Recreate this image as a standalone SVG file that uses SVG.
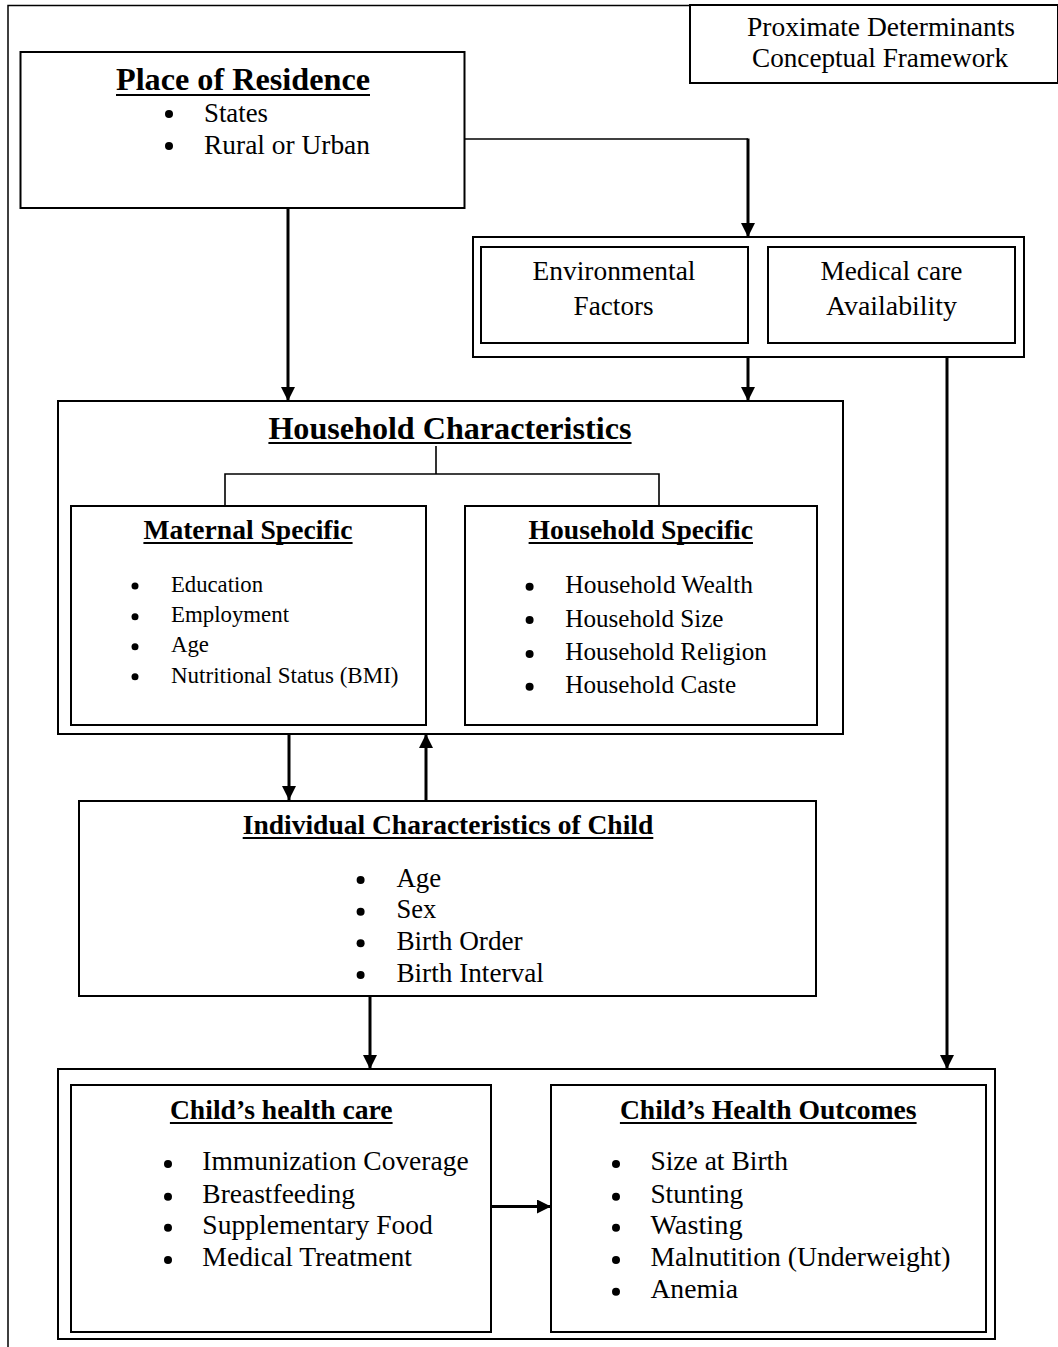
<svg xmlns="http://www.w3.org/2000/svg" width="1058" height="1347" viewBox="0 0 1058 1347">
<style>
.box{fill:#fff;stroke:#000;stroke-width:2}
.frame{fill:none;stroke:#000;stroke-width:1.5}
.t{font-family:"Liberation Serif","Times New Roman",serif;fill:#000}
.b{font-weight:bold}
.ul{stroke:#000;stroke-width:2}
.dot{fill:#000}
.c{fill:none;stroke:#000;stroke-width:3}
.thin{fill:none;stroke:#000;stroke-width:1.6}
</style>
<defs>
<marker id="ah" markerUnits="userSpaceOnUse" markerWidth="14" markerHeight="14" refX="14" refY="7" orient="auto">
<path d="M0,0 L14,7 L0,14 Z" fill="#000"/>
</marker>
</defs>
<rect width="1058" height="1347" fill="#fff"/>
<path class="frame" d="M8,1347 V5.5 H690"/>

<g id="title">
<rect class="box" x="690" y="5" width="368" height="78"/>
<text class="t" x="747" y="36" font-size="27" textLength="268" lengthAdjust="spacingAndGlyphs">Proximate Determinants</text>
<text class="t" x="752" y="67" font-size="27" textLength="256" lengthAdjust="spacingAndGlyphs">Conceptual Framework</text>
</g>

<g id="place">
<rect class="box" x="20.5" y="52" width="444" height="156"/>
<text class="t b" x="116" y="89.5" font-size="32" textLength="254" lengthAdjust="spacingAndGlyphs">Place of Residence</text>
<line class="ul" x1="116" y1="95" x2="370" y2="95"/>
<circle class="dot" cx="169" cy="114" r="4"/>
<text class="t" x="204" y="121.5" font-size="27" textLength="64" lengthAdjust="spacingAndGlyphs">States</text>
<circle class="dot" cx="169" cy="146" r="4"/>
<text class="t" x="204" y="154" font-size="27" textLength="166" lengthAdjust="spacingAndGlyphs">Rural or Urban</text>
</g>

<g id="env-group">
<rect class="box" x="473" y="237" width="551" height="120"/>
</g>
<g id="environmental">
<rect class="box" x="481" y="247" width="267" height="96"/>
<text class="t" x="532.5" y="280" font-size="27" textLength="163" lengthAdjust="spacingAndGlyphs">Environmental</text>
<text class="t" x="573.6" y="315" font-size="27" textLength="80" lengthAdjust="spacingAndGlyphs">Factors</text>
</g>
<g id="medical">
<rect class="box" x="768" y="247" width="247" height="96"/>
<text class="t" x="820.4" y="280" font-size="27" textLength="142" lengthAdjust="spacingAndGlyphs">Medical care</text>
<text class="t" x="826" y="315" font-size="27" textLength="131" lengthAdjust="spacingAndGlyphs">Availability</text>
</g>

<g id="household">
<rect class="box" x="58" y="401" width="785" height="333"/>
<text class="t b" x="268.4" y="438.5" font-size="32" textLength="363" lengthAdjust="spacingAndGlyphs">Household Characteristics</text>
<line class="ul" x1="268.4" y1="443" x2="631.6" y2="443"/>
</g>
<g id="maternal">
<rect class="box" x="71" y="506" width="355" height="219"/>
<text class="t b" x="143.4" y="538.5" font-size="27.5" textLength="209" lengthAdjust="spacingAndGlyphs">Maternal Specific</text>
<line class="ul" x1="143.4" y1="543" x2="352.6" y2="543"/>
<circle class="dot" cx="135" cy="586" r="3.5"/>
<text class="t" x="171" y="591.7" font-size="23" textLength="92" lengthAdjust="spacingAndGlyphs">Education</text>
<circle class="dot" cx="135" cy="616.7" r="3.5"/>
<text class="t" x="171" y="622.3" font-size="23" textLength="118" lengthAdjust="spacingAndGlyphs">Employment</text>
<circle class="dot" cx="135" cy="646.7" r="3.5"/>
<text class="t" x="171" y="652.3" font-size="23" textLength="38" lengthAdjust="spacingAndGlyphs">Age</text>
<circle class="dot" cx="135" cy="676.7" r="3.5"/>
<text class="t" x="171" y="682.7" font-size="23" textLength="227.5" lengthAdjust="spacingAndGlyphs">Nutritional Status (BMI)</text>
</g>
<g id="hh-specific">
<rect class="box" x="465" y="506" width="352" height="219"/>
<text class="t b" x="528.6" y="538.5" font-size="27.5" textLength="224.4" lengthAdjust="spacingAndGlyphs">Household Specific</text>
<line class="ul" x1="528.6" y1="543" x2="753" y2="543"/>
<circle class="dot" cx="529.6" cy="586.7" r="4"/>
<text class="t" x="565.3" y="593.3" font-size="25" textLength="187.7" lengthAdjust="spacingAndGlyphs">Household Wealth</text>
<circle class="dot" cx="529.6" cy="620" r="4"/>
<text class="t" x="565.3" y="626.7" font-size="25" textLength="158.2" lengthAdjust="spacingAndGlyphs">Household Size</text>
<circle class="dot" cx="529.6" cy="654" r="4"/>
<text class="t" x="565.3" y="660" font-size="25" textLength="201.5" lengthAdjust="spacingAndGlyphs">Household Religion</text>
<circle class="dot" cx="529.6" cy="686.7" r="4"/>
<text class="t" x="565.3" y="693.3" font-size="25" textLength="170.9" lengthAdjust="spacingAndGlyphs">Household Caste</text>
</g>

<g id="individual">
<rect class="box" x="79" y="801" width="737" height="195"/>
<text class="t b" x="242.7" y="833.5" font-size="27.5" textLength="410.6" lengthAdjust="spacingAndGlyphs">Individual Characteristics of Child</text>
<line class="ul" x1="242.7" y1="838" x2="653.3" y2="838"/>
<circle class="dot" cx="360.6" cy="880" r="4"/>
<text class="t" x="396.4" y="886.5" font-size="27" textLength="44.7" lengthAdjust="spacingAndGlyphs">Age</text>
<circle class="dot" cx="360.6" cy="911.7" r="4"/>
<text class="t" x="396.4" y="918.3" font-size="27" textLength="39.8" lengthAdjust="spacingAndGlyphs">Sex</text>
<circle class="dot" cx="360.6" cy="943.3" r="4"/>
<text class="t" x="396.4" y="950" font-size="27" textLength="126.3" lengthAdjust="spacingAndGlyphs">Birth Order</text>
<circle class="dot" cx="360.6" cy="975" r="4"/>
<text class="t" x="396.4" y="981.7" font-size="27" textLength="147.4" lengthAdjust="spacingAndGlyphs">Birth Interval</text>
</g>

<g id="bottom-group">
<rect class="box" x="58" y="1069" width="937" height="270"/>
</g>
<g id="health-care">
<rect class="box" x="71" y="1085" width="420" height="247"/>
<text class="t b" x="169.9" y="1119" font-size="27.5" textLength="222.7" lengthAdjust="spacingAndGlyphs">Child’s health care</text>
<line class="ul" x1="169.9" y1="1123" x2="392.6" y2="1123"/>
<circle class="dot" cx="168" cy="1164" r="4"/>
<text class="t" x="202.3" y="1170" font-size="27" textLength="266.3" lengthAdjust="spacingAndGlyphs">Immunization Coverage</text>
<circle class="dot" cx="168" cy="1196.7" r="4"/>
<text class="t" x="202.3" y="1202.7" font-size="27" textLength="152.6" lengthAdjust="spacingAndGlyphs">Breastfeeding</text>
<circle class="dot" cx="168" cy="1227.7" r="4"/>
<text class="t" x="202.3" y="1234" font-size="27" textLength="230.6" lengthAdjust="spacingAndGlyphs">Supplementary Food</text>
<circle class="dot" cx="168" cy="1260" r="4"/>
<text class="t" x="202.3" y="1266" font-size="27" textLength="209.7" lengthAdjust="spacingAndGlyphs">Medical Treatment</text>
</g>
<g id="outcomes">
<rect class="box" x="551" y="1085" width="435" height="247"/>
<text class="t b" x="619.9" y="1119" font-size="27.5" textLength="296.7" lengthAdjust="spacingAndGlyphs">Child’s Health Outcomes</text>
<line class="ul" x1="619.9" y1="1123" x2="916.6" y2="1123"/>
<circle class="dot" cx="616" cy="1164" r="4"/>
<text class="t" x="650.4" y="1170" font-size="27" textLength="137.6" lengthAdjust="spacingAndGlyphs">Size at Birth</text>
<circle class="dot" cx="616" cy="1196.7" r="4"/>
<text class="t" x="650.4" y="1202.7" font-size="27" textLength="92.8" lengthAdjust="spacingAndGlyphs">Stunting</text>
<circle class="dot" cx="616" cy="1227.7" r="4"/>
<text class="t" x="650.4" y="1234" font-size="27" textLength="92.2" lengthAdjust="spacingAndGlyphs">Wasting</text>
<circle class="dot" cx="616" cy="1260" r="4"/>
<text class="t" x="650.4" y="1266" font-size="27" textLength="300" lengthAdjust="spacingAndGlyphs">Malnutition (Underweight)</text>
<circle class="dot" cx="616" cy="1291.7" r="4"/>
<text class="t" x="650.4" y="1298.3" font-size="27" textLength="87.6" lengthAdjust="spacingAndGlyphs">Anemia</text>
</g>

<g id="connectors">
<path class="thin" d="M465,139 H748"/>
<path class="c" d="M748,138.5 V237" marker-end="url(#ah)"/>
<path class="c" d="M288,208 V401" marker-end="url(#ah)"/>
<path class="c" d="M748,357 V401" marker-end="url(#ah)"/>
<path class="c" d="M947,357 V1069" marker-end="url(#ah)"/>
<path class="c" d="M289,734 V800" marker-end="url(#ah)"/>
<path class="c" d="M426,800 V734" marker-end="url(#ah)"/>
<path class="c" d="M370,996 V1069" marker-end="url(#ah)"/>
<path class="c" d="M491,1206.5 H551" marker-end="url(#ah)"/>
<path class="thin" d="M436,446 V474 M225,474 H659 M225,473.2 V506 M659,473.2 V506"/>
</g>
</svg>
